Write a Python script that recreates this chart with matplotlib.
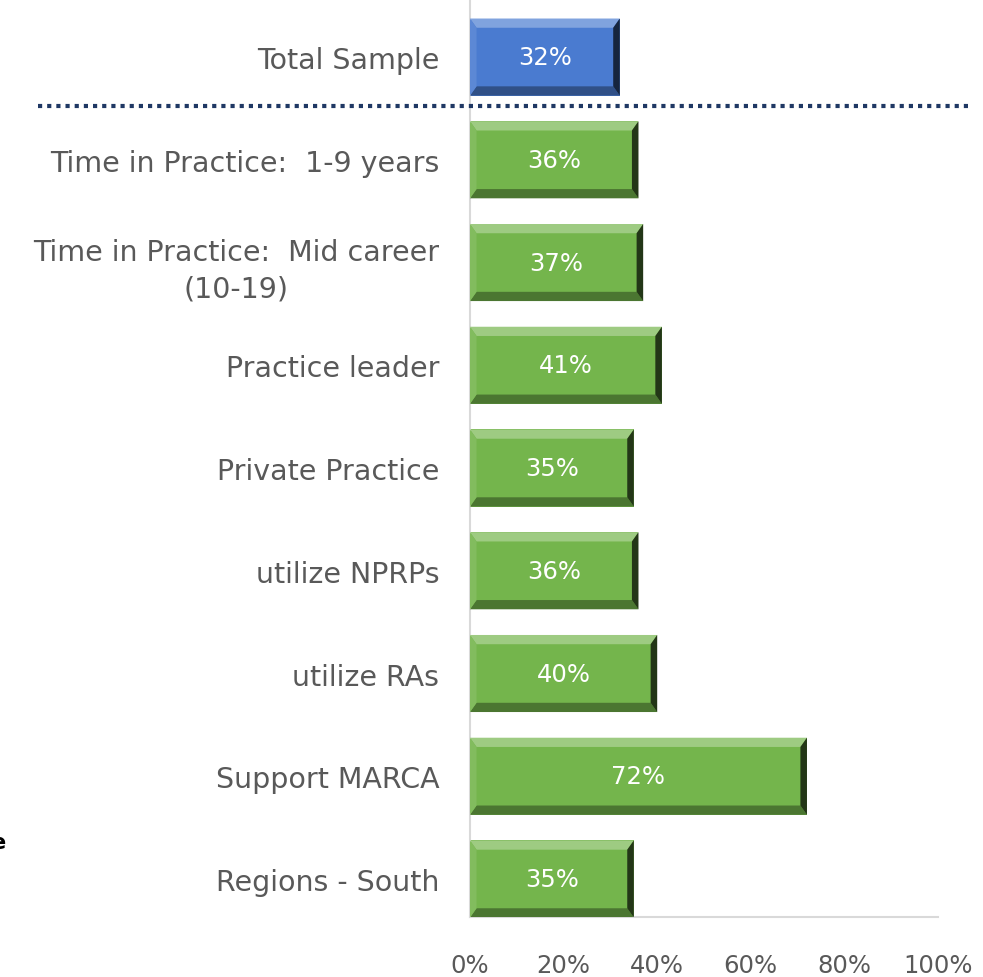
import numpy as np
import matplotlib.pyplot as plt
from matplotlib.patches import Polygon
from matplotlib.lines import Line2D

categories = [
    "Total Sample",
    "Time in Practice:  1-9 years",
    "Time in Practice:  Mid career\n(10-19)",
    "Practice leader",
    "Private Practice",
    "utilize NPRPs",
    "utilize RAs",
    "Support MARCA",
    "Regions - South",
]
values = [32, 36, 37, 41, 35, 36, 40, 72, 35]
x_ticks = [0, 20, 40, 60, 80, 100]

GREEN = "#74B54C"
BLUE = "#4A7BD0"
TEXT = "#595959"

fig = plt.figure(figsize=(9.83, 9.78), dpi=100)
ax = fig.add_axes([470 / 983, 1 - 918 / 978, 468 / 983, 918 / 978])

y = np.arange(len(categories))
colors = [BLUE] + [GREEN] * (len(categories) - 1)
bars = ax.barh(y, values, height=0.75, color=colors, zorder=2)


def shade(c, f):
    c = np.array(plt.matplotlib.colors.to_rgb(c))
    return np.clip(c * f if f < 1 else c + (1 - c) * (f - 1), 0, 1)


# fake bevel on every bar
bx, by = 1.4, 0.09
for b, col in zip(bars, colors):
    x0, y0 = b.get_x(), b.get_y()
    x1, y1 = x0 + b.get_width(), y0 + b.get_height()
    # top edge (y0 is top because axis is inverted)
    ax.add_patch(Polygon([(x0, y0), (x1, y0), (x1 - bx, y0 + by), (x0 + bx, y0 + by)],
                         color=shade(col, 1.3), lw=0, zorder=3))
    ax.add_patch(Polygon([(x0, y1), (x1, y1), (x1 - bx, y1 - by), (x0 + bx, y1 - by)],
                         color=shade(col, 0.65), lw=0, zorder=3))
    ax.add_patch(Polygon([(x1, y0), (x1, y1), (x1 - bx, y1 - by), (x1 - bx, y0 + by)],
                         color=shade(col, 0.3), lw=0, zorder=3))
    ax.add_patch(Polygon([(x0, y0), (x0, y1), (x0 + bx, y1 - by), (x0 + bx, y0 + by)],
                         color=shade(col, 1.1), lw=0, zorder=3))
    ax.text(x0 + b.get_width() / 2, b.get_y() + b.get_height() / 2, f"{b.get_width():.0f}%",
            ha="center", va="center", color="white", fontsize=17.5, zorder=4)

ax.set_xlim(0, 100)
ax.set_ylim(8.37, -0.565)
ax.set_yticks(y)
ax.set_yticklabels(categories, fontsize=20.5, color=TEXT)
for lab in ax.get_yticklabels():
    lab.set_multialignment("center")
    lab.set_linespacing(1.4)
ax.set_xticks(x_ticks)
ax.set_xticklabels([f"{t}%" for t in x_ticks], fontsize=17.5, color=TEXT)
ax.tick_params(axis="both", length=0)
ax.tick_params(axis="y", pad=22)
ax.tick_params(axis="x", pad=26)

for s in ["top", "right"]:
    ax.spines[s].set_visible(False)
for s in ["left", "bottom"]:
    ax.spines[s].set_color("#D9D9D9")
    ax.spines[s].set_linewidth(1.5)

# dotted separator under Total Sample
fig.add_artist(Line2D([38 / 983, 970 / 983], [1 - 107 / 978, 1 - 107 / 978],
                      color="#1F3864", lw=3, linestyle=(0, (1, 1.2))))

# clipped glyph at the left edge
fig.text(-0.009, 1 - 843 / 978, "e", fontsize=15, fontweight="bold", va="center")

fig.savefig("out.png", dpi=100)
